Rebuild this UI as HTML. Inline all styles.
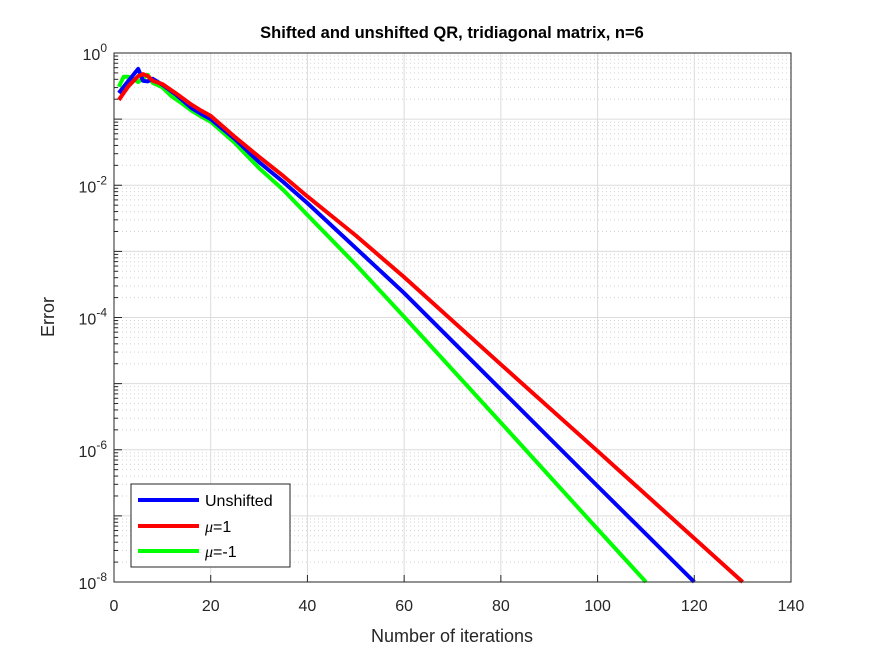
<!DOCTYPE html>
<html><head><meta charset="utf-8"><style>
body{margin:0;background:#fff;}
svg{display:block;font-family:"Liberation Sans",Arial,sans-serif;}
</style></head><body>
<svg id="c" width="875" height="656" viewBox="0 0 875 656">
<rect x="0" y="0" width="875" height="656" fill="#fff"/>
<g id="grid"></g>
<g id="series"></g>
<rect x="114" y="53" width="677" height="529" fill="none" stroke="#262626" stroke-width="1"/>
<g id="ticks"></g>
<text x="452" y="38" text-anchor="middle" font-size="16.5" font-weight="bold" fill="#000">Shifted and unshifted QR, tridiagonal matrix, n=6</text>
<text x="452" y="642" text-anchor="middle" font-size="18" fill="#262626">Number of iterations</text>
<text transform="translate(54,317) rotate(-90)" text-anchor="middle" font-size="18" fill="#262626">Error</text>
<g>
<rect x="131" y="484" width="159" height="83" fill="#fff" stroke="#262626" stroke-width="1"/>
<g>
<line x1="138" y1="500" x2="199" y2="500" stroke="#0000ff" stroke-width="4"/>
<text x="205" y="506" font-size="16" fill="#000">Unshifted</text></g>
<g>
<line x1="138" y1="526" x2="199" y2="526" stroke="#ff0000" stroke-width="4"/>
<text x="205" y="532" font-size="16" fill="#000"><tspan font-style="italic" font-family="Liberation Serif,serif">μ</tspan>=1</text></g>
<g>
<line x1="138" y1="551" x2="199" y2="551" stroke="#00ff00" stroke-width="4"/>
<text x="205" y="557" font-size="16" fill="#000"><tspan font-style="italic" font-family="Liberation Serif,serif">μ</tspan>=-1</text></g>
</g>
</svg>
<script>
const xTicks=[0,20,40,60,80,100,120,140];
const yTickExps=[0,-2,-4,-6,-8];
const blueIter=[1,3,5,6,7,8,10,13,16,18,20,25,30,35,40,50,60,80,100,120];
const blueLogErr=[-0.605,-0.42,-0.24,-0.42,-0.43,-0.39,-0.48,-0.64,-0.83,-0.92,-1.0,-1.30,-1.65,-1.95,-2.27,-2.95,-3.63,-5.09,-6.55,-8];
const redIter=[1,3,5,6,7,8,10,13,16,18,20,25,30,35,40,50,60,80,100,130];
const redLogErr=[-0.71,-0.5,-0.35,-0.32,-0.35,-0.42,-0.47,-0.62,-0.78,-0.87,-0.95,-1.27,-1.57,-1.86,-2.17,-2.76,-3.39,-4.71,-6.02,-8];
const greenIter=[1,2,3,4,5,6,7,8,10,12,14,16,18,20,25,30,35,40,50,60,80,100,110];
const greenLogErr=[-0.51,-0.36,-0.36,-0.39,-0.44,-0.38,-0.33,-0.45,-0.52,-0.66,-0.76,-0.87,-0.96,-1.04,-1.36,-1.74,-2.07,-2.45,-3.2,-3.99,-5.59,-7.2,-8];
const NS="http://www.w3.org/2000/svg";
const L=114,R=791,T=53,B=582;
function sx(v){return L+(v-0)/(140-0)*(R-L);}
function sy(e){return T+(0-e)/(0-(-8))*(B-T);}
function mk(tag,attrs,parent){const el=document.createElementNS(NS,tag);for(const k in attrs)el.setAttribute(k,attrs[k]);parent.appendChild(el);return el;}
const grid=document.getElementById('grid'),ticks=document.getElementById('ticks'),series=document.getElementById('series');
for(let d=0;d>-8;d--){for(let m=2;m<=9;m++){const y=sy(d-1+Math.log10(m));
const ln=mk('line',{x1:L,x2:R,y1:y,y2:y,stroke:'#d4d4d4','stroke-width':1,'stroke-dasharray':'1,3'},grid);


const t1=mk('line',{x1:L,x2:L+4,y1:y,y2:y,stroke:'#262626','stroke-width':1},ticks);

}}
for(let d=0;d>=-8;d--){const y=sy(d);
const ln=mk('line',{x1:L,x2:R,y1:y,y2:y,stroke:'#dcdcdc','stroke-width':1},grid);


const t=mk('line',{x1:L,x2:L+8,y1:y,y2:y,stroke:'#262626','stroke-width':1},ticks);

}
yTickExps.forEach(e=>{const y=sy(e);
const tx=mk('text',{x:L-7,y:y+7,'text-anchor':'end','font-size':16,fill:'#262626'},ticks);
tx.innerHTML='10<tspan dy="-8" font-size="12">'+e+'</tspan>';

});
xTicks.forEach(v=>{const x=sx(v);
if(v>0&&v<140){const g=mk('line',{x1:x,x2:x,y1:T,y2:B,stroke:'#dcdcdc','stroke-width':1},grid);

}
const t=mk('line',{x1:x,x2:x,y1:B,y2:B-7,stroke:'#262626','stroke-width':1},ticks);


const tx=mk('text',{x:x,y:611,'text-anchor':'middle','font-size':16,fill:'#262626'},ticks);
tx.textContent=v;

});
function drawLine(xs,ys,color,name){
const pts=xs.map((v,i)=>sx(v).toFixed(2)+','+sy(ys[i]).toFixed(2)).join(' ');
const p=mk('polyline',{points:pts,fill:'none',stroke:color,'stroke-width':4,'stroke-linejoin':'round'},series);

}
drawLine(greenIter,greenLogErr,'#00ff00','series-mu-minus-1');
drawLine(blueIter,blueLogErr,'#0000ff','series-unshifted');
drawLine(redIter,redLogErr,'#ff0000','series-mu-1');
</script>
</body></html>
